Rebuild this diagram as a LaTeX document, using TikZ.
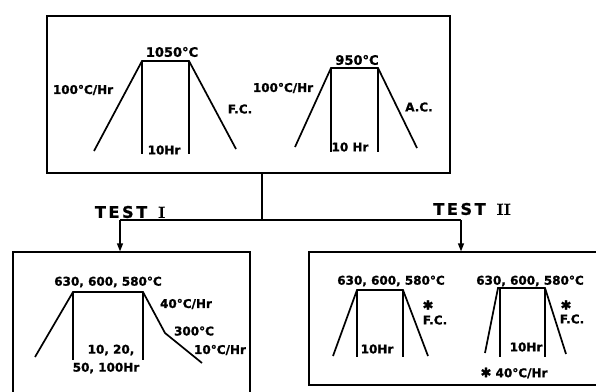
\documentclass[tikz,border=0pt]{standalone}
\usepackage{fontspec}
\setmainfont{DejaVu Sans}[BoldFeatures={FakeBold=1.2}]
\newfontfamily\romanfont{Latin Modern Roman}[BoldFeatures={FakeBold=1.5}]
\usetikzlibrary{arrows.meta}
\begin{document}
\begin{tikzpicture}[x=1pt,y=-1pt,
  box/.style={draw,line width=1.3pt,rectangle,inner sep=0pt},
  curve/.style={line width=1.7pt},
  conn/.style={line width=1.3pt},
  arr/.style={conn,-{Triangle[length=8pt,width=6pt]}},
  lab/.style={inner sep=0pt,font=\fontsize{12}{14}\selectfont\bfseries},
  big/.style={inner sep=0pt,font=\fontsize{13}{15}\selectfont\bfseries},
  test/.style={inner sep=0pt,font=\fontsize{16}{18}\selectfont\bfseries},
  star/.style={inner sep=0pt,font=\fontsize{13}{15}\selectfont\bfseries}]
\useasboundingbox (0,0) rectangle (596,391);
\begin{scope}
\clip (0,0) rectangle (596,391);
% boxes
\node[box,minimum width=403pt,minimum height=157pt] (top) at (248.5,94.5) {};
\node[box,minimum width=237pt,minimum height=150pt] (left) at (131.5,327) {};
\node[box,minimum width=301pt,minimum height=133pt] (right) at (459.5,318.5) {};
\end{scope}
% connectors
\coordinate (j) at (262,220);
\coordinate (aL) at (120,220);
\coordinate (aR) at (461,220);
\draw[conn] (top.south -| j) -- (j);
\draw[conn] (aL) -- (aR);
\draw[arr] (aL) -- (aL |- left.north);
\draw[arr] (aR) -- (aR |- right.north);
\node[test] (t1) at (130,212) {T\,E\,S\,T\ \ {\romanfont\bfseries I}};
\node[test] (t2) at (472,209) {T\,E\,S\,T\ \ {\romanfont\bfseries II}};
% top left trapezoid
\draw[curve] (94,151) -- (142,61) -- (189,61) -- (236,149);
\draw[curve] (142,61) -- (142,154) (189,61) -- (189,154);
\node[big] (l1) at (172,52) {1050°C};
\node[lab] (l2) at (83,90) {100°C/Hr};
\node[lab] (l3) at (240,109) {F.C.};
\node[lab] (l4) at (164,150) {10Hr};
% top right trapezoid
\draw[curve] (295,147) -- (331,68) -- (378,68) -- (417,148);
\draw[curve] (331,68) -- (331,152) (378,68) -- (378,152);
\node[big] (r1) at (357,60) {950°C};
\node[lab] (r2) at (283,88) {100°C/Hr};
\node[lab] (r3) at (419,107) {A.C.};
\node[lab] (r4) at (350,147) {10 Hr};
% bottom left
\draw[curve] (35,357) -- (73,292) -- (143,292) -- (165,333) -- (202,363);
\draw[curve] (73,292) -- (73,360) (143,292) -- (143,360);
\node[lab] (b1) at (108,282) {630, 600, 580°C};
\node[lab] (b2) at (186,304) {40°C/Hr};
\node[lab] (b3) at (194,331) {300°C};
\node[lab] (b4) at (220,350) {10°C/Hr};
\node[lab] (b5) at (111,350) {10, 20,};
\node[lab] (b6) at (106,368) {50, 100Hr};
% bottom right 1
\draw[curve] (333,356) -- (357,290) -- (403,290) -- (428,356);
\draw[curve] (357,290) -- (357,357) (403,290) -- (403,357);
\node[lab] (c1) at (391,281) {630, 600, 580°C};
\node[star] (c2) at (428,305) {✱};
\node[lab] (c3) at (435,320) {F.C.};
\node[lab] (c4) at (377,349) {10Hr};
% bottom right 2
\draw[curve] (485,353) -- (498,288) -- (545,288) -- (566,354);
\draw[curve] (500,288) -- (500,357) (545,288) -- (545,357);
\node[lab] (d1) at (530,281) {630, 600, 580°C};
\node[star] (d2) at (566,305) {✱};
\node[lab] (d3) at (572,319) {F.C.};
\node[lab] (d4) at (526,347) {10Hr};
\node[lab] (d5) at (514,373) {{\fontsize{13}{15}\selectfont ✱}\ 40°C/Hr};
\end{tikzpicture}
\end{document}
